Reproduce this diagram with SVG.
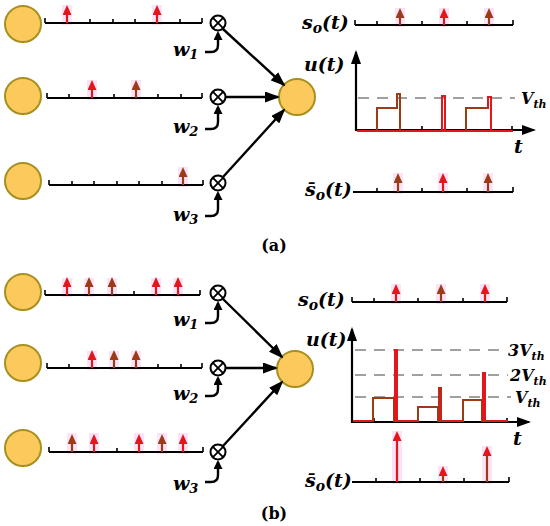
<svg xmlns="http://www.w3.org/2000/svg" width="550" height="526" viewBox="0 0 550 526">
<style>
.neuron{fill:#fcc95c;stroke:#a89020;stroke-width:2}
.axis{stroke:#000;stroke-width:2.2;fill:none}
.tick{stroke:#000;stroke-width:1.6}
.otimes{fill:#fff;stroke:#000;stroke-width:2}
.conn{stroke:#000;stroke-width:2.4;fill:none}
.hook{stroke:#000;stroke-width:2.4;fill:none}
.dash{stroke:#a0a0a0;stroke-width:2;stroke-dasharray:11 8;fill:none}
.lbl{font-family:"DejaVu Serif","Liberation Serif",serif;font-weight:bold;font-style:italic;font-size:19px;fill:#000}
.vth{font-family:"DejaVu Serif","Liberation Serif",serif;font-weight:bold;font-style:italic;font-size:16px;fill:#000}
.cap{font-family:"DejaVu Serif","Liberation Serif",serif;font-weight:bold;font-size:16px;fill:#000}
.pk{fill:#fde3f8}
.sr{stroke:#e3161b;stroke-width:2.2}
.sb{stroke:#9b3b17;stroke-width:2.2}
</style>
<defs>
<marker id="hr" markerUnits="userSpaceOnUse" markerWidth="10" markerHeight="9" viewBox="0 0 10 9" refX="4" refY="4.5" orient="auto"><path d="M0,0 L10,4.5 L0,9z" fill="#e3161b"/></marker>
<marker id="hb" markerUnits="userSpaceOnUse" markerWidth="10" markerHeight="9" viewBox="0 0 10 9" refX="4" refY="4.5" orient="auto"><path d="M0,0 L10,4.5 L0,9z" fill="#9b3b17"/></marker>
<marker id="ah" markerUnits="userSpaceOnUse" markerWidth="15" markerHeight="11" viewBox="0 0 15 11" refX="13" refY="5.5" orient="auto"><path d="M0,0 L15,5.5 L0,11z" fill="#000"/></marker>
<marker id="hk" markerUnits="userSpaceOnUse" markerWidth="9" markerHeight="9" viewBox="0 0 9 9" refX="7" refY="4.5" orient="auto"><path d="M0,0 L9,4.5 L0,9z" fill="#000"/></marker>
<marker id="ax" markerUnits="userSpaceOnUse" markerWidth="14" markerHeight="10" viewBox="0 0 14 10" refX="12" refY="5" orient="auto"><path d="M0,0 L14,5 L0,10z" fill="#000"/></marker>
<g id="ot"><circle r="7.5" class="otimes"/><path d="M-5.3,-5.3 L5.3,5.3 M-5.3,5.3 L5.3,-5.3" stroke="#000" stroke-width="1.8"/></g>
</defs>

<!-- ========== Panel (a) ========== -->
<g id="a-in1"><circle cx="23" cy="24" r="18" class="neuron"/></g>
<g id="a-in2"><circle cx="23" cy="96" r="18" class="neuron"/></g>
<g id="a-in3"><circle cx="23" cy="181" r="18" class="neuron"/></g>

<g id="a-train1">
<rect class="pk" x="62" y="5" width="10" height="20"/><rect class="pk" x="152" y="5" width="10" height="20"/>
<path class="axis" d="M45,23 H202"/>
<path class="tick" d="M45,23 v-5 M67,23 v-4 M90,23 v-4 M113,23 v-4 M135,23 v-4 M157,23 v-4 M180,23 v-4 M202,23 v-5"/>
<line class="sr" x1="67" y1="23" x2="67" y2="11" marker-end="url(#hr)"/>
<line class="sr" x1="157" y1="23" x2="157" y2="11" marker-end="url(#hr)"/>
</g>
<g id="a-train2">
<rect class="pk" x="87" y="80" width="10" height="20"/><rect class="pk" x="131" y="80" width="10" height="20"/>
<path class="axis" d="M47,98 H202"/>
<path class="tick" d="M47,98 v-5 M69,98 v-4 M92,98 v-4 M114,98 v-4 M136,98 v-4 M158,98 v-4 M181,98 v-4 M202,98 v-5"/>
<line class="sr" x1="92" y1="98" x2="92" y2="86" marker-end="url(#hr)"/>
<line class="sb" x1="136" y1="98" x2="136" y2="86" marker-end="url(#hb)"/>
</g>
<g id="a-train3">
<rect class="pk" x="178" y="167" width="10" height="20"/>
<path class="axis" d="M49,185 H203"/>
<path class="tick" d="M49,185 v-5 M72,185 v-4 M94,185 v-4 M117,185 v-4 M139,185 v-4 M162,185 v-4 M183,185 v-4 M203,185 v-5"/>
<line class="sb" x1="183" y1="185" x2="183" y2="173" marker-end="url(#hb)"/>
</g>

<g id="a-w1"><use href="#ot" x="218" y="23"/><text class="lbl" x="173" y="56" font-size="21">w<tspan font-size="13" dy="3">1</tspan></text></g>
<g id="a-w2"><use href="#ot" x="218" y="97"/><text class="lbl" x="173" y="133" font-size="21">w<tspan font-size="13" dy="3">2</tspan></text></g>
<g id="a-w3"><use href="#ot" x="218" y="183"/><text class="lbl" x="173" y="221" font-size="21">w<tspan font-size="13" dy="3">3</tspan></text></g>

<g id="a-out"><circle cx="297" cy="97" r="18" class="neuron"/></g>

<g id="a-connectors">
<path class="hook" d="M205,52 H211 Q218,52 218,45 V33" marker-end="url(#hk)"/>
<path class="hook" d="M205,129 H211 Q218,129 218,122 V107" marker-end="url(#hk)"/>
<path class="hook" d="M205,216 H211 Q218,216 218,209 V193" marker-end="url(#hk)"/>
<line class="conn" x1="223" y1="29" x2="284" y2="85" marker-end="url(#ah)"/>
<line class="conn" x1="226" y1="97" x2="278" y2="97" marker-end="url(#ah)"/>
<line class="conn" x1="223" y1="177" x2="284" y2="110" marker-end="url(#ah)"/>
</g>

<g id="a-so">
<text class="lbl" x="302" y="29">s<tspan font-size="14" dy="4">o</tspan><tspan dy="-4">(t)</tspan></text>
<rect class="pk" x="395" y="8" width="10" height="19"/><rect class="pk" x="439" y="8" width="10" height="19"/><rect class="pk" x="484" y="8" width="10" height="19"/>
<path class="axis" d="M355,25 H513"/>
<path class="tick" d="M355,25 v-5 M377,25 v-4 M400,25 v-4 M422,25 v-4 M444,25 v-4 M467,25 v-4 M489,25 v-4 M513,25 v-5"/>
<line class="sb" x1="400" y1="25" x2="400" y2="14" marker-end="url(#hb)"/>
<line class="sr" x1="444" y1="25" x2="444" y2="14" marker-end="url(#hr)"/>
<line class="sb" x1="489" y1="25" x2="489" y2="14" marker-end="url(#hb)"/>
</g>

<g id="a-ut">
<text class="lbl" x="304" y="71">u(t)</text>
<path class="dash" d="M358,98 H515"/>
<text class="vth" x="521" y="104">V<tspan font-size="11" dy="4">th</tspan></text>
<line class="axis" x1="356" y1="131" x2="356" y2="52" marker-end="url(#ax)"/>
<line class="axis" x1="356" y1="130" x2="534" y2="130" marker-end="url(#ax)"/>
<path class="tick" d="M422,130 v-4 M512,130 v-4"/>
<path d="M357,131 H513" stroke="#e3161b" stroke-width="2" fill="none"/>
<path d="M377,131 V108 H397 V94 H400 V131" stroke="#9b3b17" stroke-width="2" fill="none"/>
<path d="M442,131 V96 H445 V131" stroke="#e3161b" stroke-width="2" fill="none"/>
<path d="M466,131 V108 H488 V97 H491 V131" stroke="#9b3b17" stroke-width="2" fill="none"/>
<path d="M488,108 V97 H491 V131" stroke="#e3161b" stroke-width="2" fill="none"/>
<text class="lbl" x="514" y="153">t</text>
</g>

<g id="a-sbar">
<text class="lbl" x="305" y="196">s̄<tspan font-size="14" dy="4">o</tspan><tspan dy="-4">(t)</tspan></text>
<rect class="pk" x="393" y="173" width="10" height="21"/><rect class="pk" x="438" y="173" width="10" height="21"/><rect class="pk" x="483" y="173" width="10" height="21"/>
<path class="axis" d="M353,192 H513"/>
<path class="tick" d="M377,192 v-4 M422,192 v-4 M467,192 v-4 M513,192 v-5"/>
<line class="sb" x1="398" y1="192" x2="398" y2="179" marker-end="url(#hb)"/>
<line class="sr" x1="443" y1="192" x2="443" y2="179" marker-end="url(#hr)"/>
<line class="sb" x1="488" y1="192" x2="488" y2="179" marker-end="url(#hb)"/>
</g>

<text class="cap" x="274" y="251" text-anchor="middle">(a)</text>

<!-- ========== Panel (b) ========== -->
<g id="b-in1"><circle cx="23" cy="292" r="18" class="neuron"/></g>
<g id="b-in2"><circle cx="23" cy="363" r="18" class="neuron"/></g>
<g id="b-in3"><circle cx="23" cy="448" r="18" class="neuron"/></g>

<g id="b-train1">
<rect class="pk" x="62" y="278" width="10" height="19"/><rect class="pk" x="84" y="278" width="10" height="19"/><rect class="pk" x="107" y="278" width="10" height="19"/><rect class="pk" x="151" y="278" width="10" height="19"/><rect class="pk" x="173" y="278" width="10" height="19"/>
<path class="axis" d="M45,295 H200"/>
<path class="tick" d="M45,295 v-5 M134,295 v-4 M200,295 v-5"/>
<line class="sr" x1="67" y1="295" x2="67" y2="283" marker-end="url(#hr)"/>
<line class="sb" x1="89" y1="295" x2="89" y2="283" marker-end="url(#hb)"/>
<line class="sb" x1="112" y1="295" x2="112" y2="283" marker-end="url(#hb)"/>
<line class="sr" x1="156" y1="295" x2="156" y2="283" marker-end="url(#hr)"/>
<line class="sr" x1="178" y1="295" x2="178" y2="283" marker-end="url(#hr)"/>
</g>
<g id="b-train2">
<rect class="pk" x="87" y="351" width="10" height="19"/><rect class="pk" x="109" y="351" width="10" height="19"/><rect class="pk" x="131" y="351" width="10" height="19"/>
<path class="axis" d="M47,368 H202"/>
<path class="tick" d="M47,368 v-5 M69,368 v-4 M158,368 v-4 M181,368 v-4 M202,368 v-5"/>
<line class="sr" x1="92" y1="368" x2="92" y2="356" marker-end="url(#hr)"/>
<line class="sb" x1="114" y1="368" x2="114" y2="356" marker-end="url(#hb)"/>
<line class="sb" x1="136" y1="368" x2="136" y2="356" marker-end="url(#hb)"/>
</g>
<g id="b-train3">
<rect class="pk" x="67" y="433" width="10" height="21"/><rect class="pk" x="89" y="433" width="10" height="21"/><rect class="pk" x="134" y="433" width="10" height="21"/><rect class="pk" x="157" y="433" width="10" height="21"/><rect class="pk" x="178" y="433" width="10" height="21"/>
<path class="axis" d="M49,452 H203"/>
<path class="tick" d="M49,452 v-5 M117,452 v-4 M203,452 v-5"/>
<line class="sb" x1="72" y1="452" x2="72" y2="440" marker-end="url(#hb)"/>
<line class="sr" x1="94" y1="452" x2="94" y2="440" marker-end="url(#hr)"/>
<line class="sr" x1="139" y1="452" x2="139" y2="440" marker-end="url(#hr)"/>
<line class="sb" x1="162" y1="452" x2="162" y2="440" marker-end="url(#hb)"/>
<line class="sr" x1="183" y1="452" x2="183" y2="440" marker-end="url(#hr)"/>
</g>

<g id="b-w1"><use href="#ot" x="218" y="293"/><text class="lbl" x="173" y="326" font-size="21">w<tspan font-size="13" dy="3">1</tspan></text></g>
<g id="b-w2"><use href="#ot" x="218" y="368"/><text class="lbl" x="173" y="400" font-size="21">w<tspan font-size="13" dy="3">2</tspan></text></g>
<g id="b-w3"><use href="#ot" x="218" y="452"/><text class="lbl" x="173" y="490" font-size="21">w<tspan font-size="13" dy="3">3</tspan></text></g>

<g id="b-out"><circle cx="295" cy="369" r="18" class="neuron"/></g>

<g id="b-connectors">
<path class="hook" d="M205,323 H211 Q218,323 218,316 V303" marker-end="url(#hk)"/>
<path class="hook" d="M205,396 H211 Q218,396 218,389 V378" marker-end="url(#hk)"/>
<path class="hook" d="M205,482 H211 Q218,482 218,475 V462" marker-end="url(#hk)"/>
<line class="conn" x1="223" y1="299" x2="282" y2="357" marker-end="url(#ah)"/>
<line class="conn" x1="226" y1="368" x2="276" y2="368" marker-end="url(#ah)"/>
<line class="conn" x1="223" y1="446" x2="282" y2="382" marker-end="url(#ah)"/>
</g>

<g id="b-so">
<text class="lbl" x="298" y="306">s<tspan font-size="14" dy="4">o</tspan><tspan dy="-4">(t)</tspan></text>
<rect class="pk" x="391" y="284" width="10" height="20"/><rect class="pk" x="436" y="284" width="10" height="20"/><rect class="pk" x="480" y="284" width="10" height="20"/>
<path class="axis" d="M352,302 H507"/>
<path class="tick" d="M352,302 v-5 M374,302 v-4 M396,302 v-4 M418,302 v-4 M441,302 v-4 M463,302 v-4 M485,302 v-4 M507,302 v-5"/>
<line class="sr" x1="396" y1="302" x2="396" y2="290" marker-end="url(#hr)"/>
<line class="sb" x1="441" y1="302" x2="441" y2="290" marker-end="url(#hb)"/>
<line class="sr" x1="485" y1="302" x2="485" y2="290" marker-end="url(#hr)"/>
</g>

<g id="b-ut">
<text class="lbl" x="306" y="346">u(t)</text>
<path class="dash" d="M355,350 H505 M355,375 H508 M355,397 H511"/>
<text class="vth" x="508" y="356">3V<tspan font-size="11" dy="4">th</tspan></text>
<text class="vth" x="510" y="381">2V<tspan font-size="11" dy="4">th</tspan></text>
<text class="vth" x="515" y="403">V<tspan font-size="11" dy="4">th</tspan></text>
<line class="axis" x1="352" y1="423" x2="352" y2="329" marker-end="url(#ax)"/>
<line class="axis" x1="352" y1="422" x2="529" y2="422" marker-end="url(#ax)"/>
<path class="tick" d="M374,422 v-4 M396,422 v-4 M418,422 v-4 M441,422 v-4 M463,422 v-4 M485,422 v-4 M507,422 v-4"/>
<path d="M353,421 H373 V398 H394 V421 H418 V407 H438 V421 H463 V400 H482 V421 H508" stroke="#9b3b17" stroke-width="2" fill="none"/>
<path d="M353,421 H372 M399,421 H417 M445,421 H462 M489,421 H508" stroke="#e3161b" stroke-width="2" fill="none"/>
<rect x="394" y="349" width="4" height="72" fill="#e3161b"/>
<rect x="438" y="387" width="4" height="34" fill="#c0281a"/>
<rect x="482" y="372" width="4" height="49" fill="#e3161b"/>
<text class="lbl" x="513" y="445">t</text>
</g>

<g id="b-sbar">
<text class="lbl" x="305" y="487">s̄<tspan font-size="14" dy="4">o</tspan><tspan dy="-4">(t)</tspan></text>
<rect class="pk" x="392" y="431" width="10" height="53"/><rect class="pk" x="438" y="466" width="10" height="18"/><rect class="pk" x="482" y="446" width="10" height="38"/>
<path class="axis" d="M352,482 H509"/>
<path class="tick" d="M376,482 v-4 M420,482 v-4 M464,482 v-4 M509,482 v-5"/>
<line class="sr" x1="397" y1="482" x2="397" y2="437" marker-end="url(#hr)"/>
<line class="sb" x1="443" y1="482" x2="443" y2="472" marker-end="url(#hr)"/>
<line class="sb" x1="487" y1="482" x2="487" y2="452" marker-end="url(#hr)"/>
</g>

<text class="cap" x="274" y="519" text-anchor="middle">(b)</text>
</svg>
